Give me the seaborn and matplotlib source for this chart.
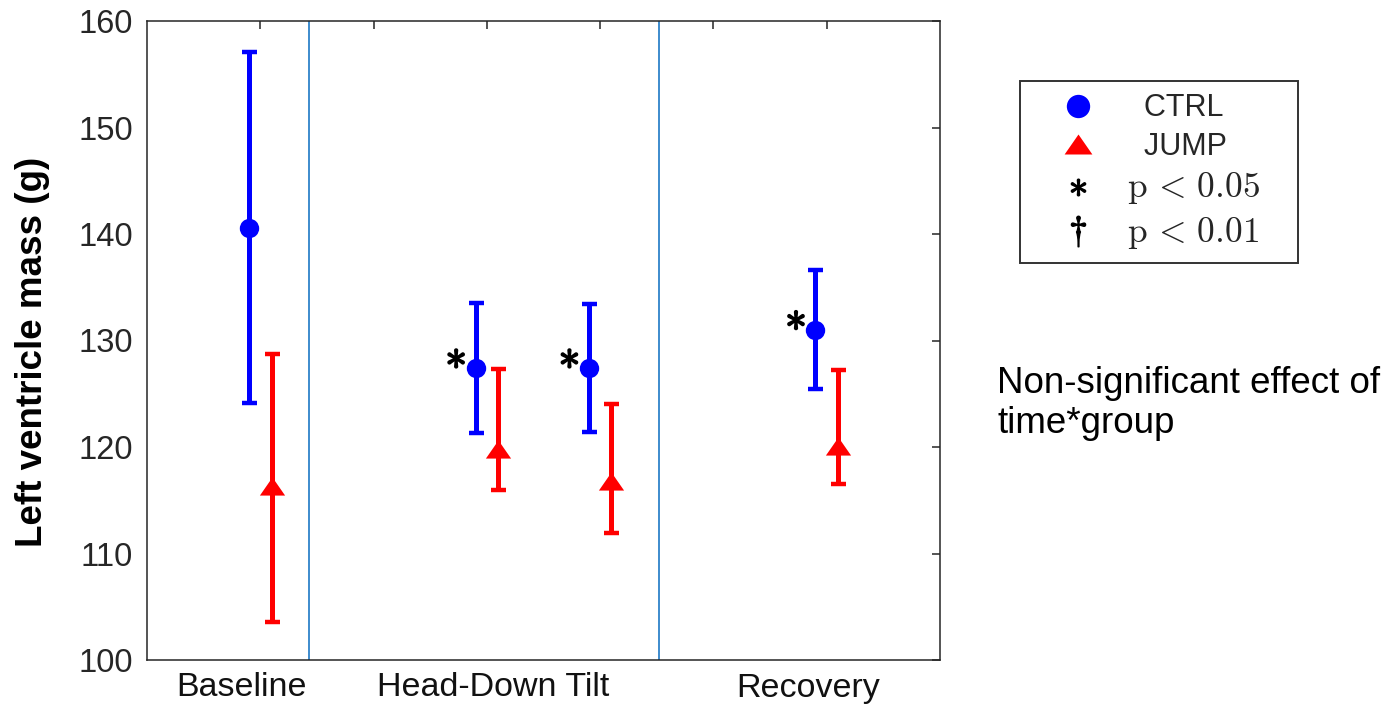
import numpy as np
import pandas as pd
import matplotlib
matplotlib.use("Agg")
import matplotlib.pyplot as plt
import matplotlib.patheffects as pe
from matplotlib.lines import Line2D
import seaborn as sns

# ---------------- data ----------------
sessions = ["Baseline", "HDT-a", "HDT-b", "Recovery"]
session_pos = [1, 3, 4, 6]
ctrl_mean = [140.6, 127.4, 127.4, 131.0]
ctrl_upper = [157.1, 133.5, 133.4, 136.6]
ctrl_lower = [124.1, 121.3, 121.4, 125.4]
jump_mean = [116.3, 119.8, 116.8, 120.1]
jump_upper = [128.7, 127.3, 124.0, 127.2]
jump_lower = [103.6, 116.0, 111.9, 116.5]
significant_ctrl = [False, True, True, True]
tick_labels = ["Baseline", "Head-Down Tilt", "Recovery"]
legend_labels = ["  CTRL", "  JUMP", r"$\mathrm{p}\,<\,0.05$", r"$\mathrm{p}\,<\,0.01$"]
note_text = "Non-significant effect of\ntime*group"

# ---------------- style ----------------
sns.set_style("white")
plt.rcParams["font.family"] = ["Liberation Sans", "DejaVu Sans"]
plt.rcParams["mathtext.fontset"] = "cm"

offset = 0.1
df = pd.DataFrame({
    "x": [p - offset for p in session_pos] + [p + offset for p in session_pos],
    "mean": ctrl_mean + jump_mean,
    "upper": ctrl_upper + jump_upper,
    "lower": ctrl_lower + jump_lower,
    "group": ["CTRL"] * 4 + ["JUMP"] * 4,
})

tri = [(0, 0.72), (-1, -0.72), (1, -0.72)]
colors = {"CTRL": "#0000ff", "JUMP": "#ff0000"}

fig = plt.figure(figsize=(13.93, 7.05), dpi=100)
ax = fig.add_axes([147 / 1393, 45 / 705, 793 / 1393, 639 / 705])

for g, sub in df.groupby("group"):
    ax.errorbar(sub["x"], sub["mean"],
                yerr=[sub["mean"] - sub["lower"], sub["upper"] - sub["mean"]],
                fmt="none", ecolor=colors[g], elinewidth=3.6, capsize=5.4,
                capthick=3.2, zorder=2)

sns.scatterplot(data=df[df.group == "CTRL"], x="x", y="mean", color=colors["CTRL"],
                marker="o", s=195, linewidth=0, ax=ax, zorder=3, legend=False)
sns.scatterplot(data=df[df.group == "JUMP"], x="x", y="mean", color=colors["JUMP"],
                marker=tri, s=330, linewidth=0, ax=ax, zorder=3, legend=False)

# significance stars
for pos, m, sig in zip(session_pos, ctrl_mean, significant_ctrl):
    if sig:
        ax.text(pos - offset - 0.175, m + 0.92, r"$\ast$", fontsize=31, color="black",
                ha="center", va="center",
                path_effects=[pe.withStroke(linewidth=1.3, foreground="black")])

# separators
for xv in [1.43, 4.52]:
    ax.axvline(xv, color="#3d8bcd", lw=1.4, zorder=1)

ax.set_xlim(0, 7)
ax.set_ylim(100, 160)
ax.set_yticks(np.arange(100, 161, 10))
ax.set_xticks(np.arange(1, 7))
ax.set_xticklabels([""] * 6)
ax.set_xticks([0.83, 3.06, 5.84], minor=True)
ax.set_xticklabels(tick_labels, minor=True)
ax.tick_params(axis="x", which="minor", length=0, pad=9, labelsize=24.5, labelcolor="#111111")
ax.tick_params(axis="both", which="major", direction="in", length=6, width=1.1,
               top=True, right=True, color="#262626", labelsize=23.5, labelcolor="#262626")
ax.tick_params(axis="y", pad=10)
ax.set_xlabel("")
ax.set_ylabel("Left ventricle mass (g)", fontsize=26.5, fontweight="bold", color="black")
ax.yaxis.set_label_coords(-0.122, 0.482)
for sp in ax.spines.values():
    sp.set_color("#262626")
    sp.set_linewidth(1.1)

handles = [
    Line2D([], [], ls="none", marker="o", color="#0000ff", markersize=16.8, markeredgewidth=0),
    Line2D([], [], ls="none", marker=tri, color="#ff0000", markersize=20, markeredgewidth=0),
    Line2D([], [], ls="none", marker=r"$\ast$", color="black", markersize=12),
    Line2D([], [], ls="none", marker=r"$\dagger$", color="black", markersize=22),
]
leg = fig.legend(handles, legend_labels, loc="upper left",
                 bbox_to_anchor=(1020 / 1393, 1 - 258 / 705, 278 / 1393, 177 / 705),
                 bbox_transform=fig.transFigure, mode="expand",
                 borderaxespad=0, frameon=True, fancybox=False, fontsize=22,
                 handlelength=3.0, handletextpad=0.1, borderpad=0.4, labelspacing=0.28)
for t in leg.get_texts()[2:]:
    t.set_fontsize(25.5)
leg.get_frame().set_edgecolor("black")
leg.get_frame().set_linewidth(1.4)

fig.text(997 / 1393, 1 - 366 / 705, note_text, fontsize=26.5, ha="left", va="top",
         linespacing=1.18, color="black")

fig.savefig("out.png", dpi=100)
